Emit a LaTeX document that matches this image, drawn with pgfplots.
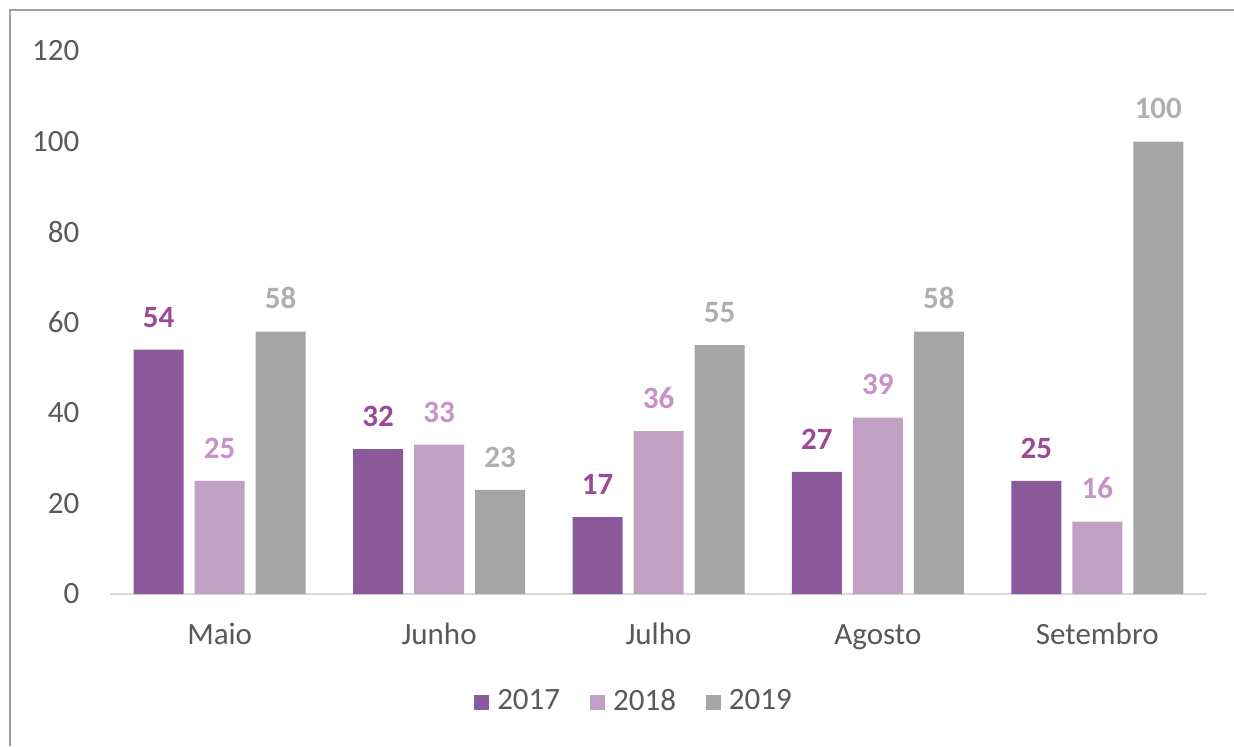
\documentclass[border=0pt]{standalone}
\usepackage{pgfplots}
\pgfplotsset{compat=1.18}
\usepackage{fontspec}
\setmainfont{Carlito}
\definecolor{c2017}{RGB}{139,90,154}
\definecolor{c2018}{RGB}{192,160,195}
\definecolor{c2019}{RGB}{165,165,165}
\definecolor{l2017}{RGB}{156,74,150}
\definecolor{l2018}{RGB}{200,145,200}
\definecolor{l2019}{RGB}{175,175,175}
\definecolor{ticktext}{RGB}{89,89,89}
\definecolor{frame}{RGB}{160,160,160}

\begin{document}
\fontsize{15.5}{18}\selectfont
\begin{tikzpicture}
\useasboundingbox (0,0) rectangle (617pt,373pt);
\draw[frame, line width=0.8pt] (5pt,0) -- (5pt,368pt) -- (617pt,368pt);
\begin{axis}[
    at={(55pt,76pt)}, anchor=south west,
    scale only axis,
    width=548.5pt, height=271.5pt,
    ybar=5.5pt, bar width=25pt,
    xmin=-0.5, xmax=4.5,
    ymin=0, ymax=120,
    xtick=data,
    xticklabels={Maio,Junho,Julho,Agosto,Setembro},
    ytick={0,20,...,120},
    major tick length=0pt,
    axis x line*=bottom,
    axis y line*=left,
    y axis line style={draw=none},
    x axis line style={draw={rgb,255:red,217;green,217;blue,217}, line width=1pt},
    /pgf/number format/assume math mode=true,
    tick label style={font=\fontsize{15.5}{18}\selectfont, text=ticktext},
    xticklabel style={anchor=north, text height=11pt, text depth=3pt, yshift=-9pt},
    yticklabel style={anchor=east, xshift=-10pt},
    nodes near coords,
    every node near coord/.append style={font=\fontsize{15.5}{18}\selectfont\bfseries, inner sep=0pt, yshift=11pt},
    legend columns=3,
    legend style={at={(0.4786,-0.199)}, anchor=center, draw=none,
        font=\fontsize{15.5}{18}\selectfont, text=ticktext,
        /tikz/every even column/.append style={column sep=13pt}},
    legend image code/.code={\fill[#1] (0pt,-3.75pt) rectangle (7.5pt,3.75pt);
        \path (0pt,0pt) -- (9.5pt,0pt);},
]
\addplot[fill=c2017, draw=none, every node near coord/.append style={text=l2017}]
    coordinates {(0,54)(1,32)(2,17)(3,27)(4,25)};
\addlegendentry{2017}
\addplot[fill=c2018, draw=none, every node near coord/.append style={text=l2018}]
    coordinates {(0,25)(1,33)(2,36)(3,39)(4,16)};
\addlegendentry{2018}
\addplot[fill=c2019, draw=none, every node near coord/.append style={text=l2019}]
    coordinates {(0,58)(1,23)(2,55)(3,58)(4,100)};
\addlegendentry{2019}
\end{axis}
\end{tikzpicture}
\end{document}
